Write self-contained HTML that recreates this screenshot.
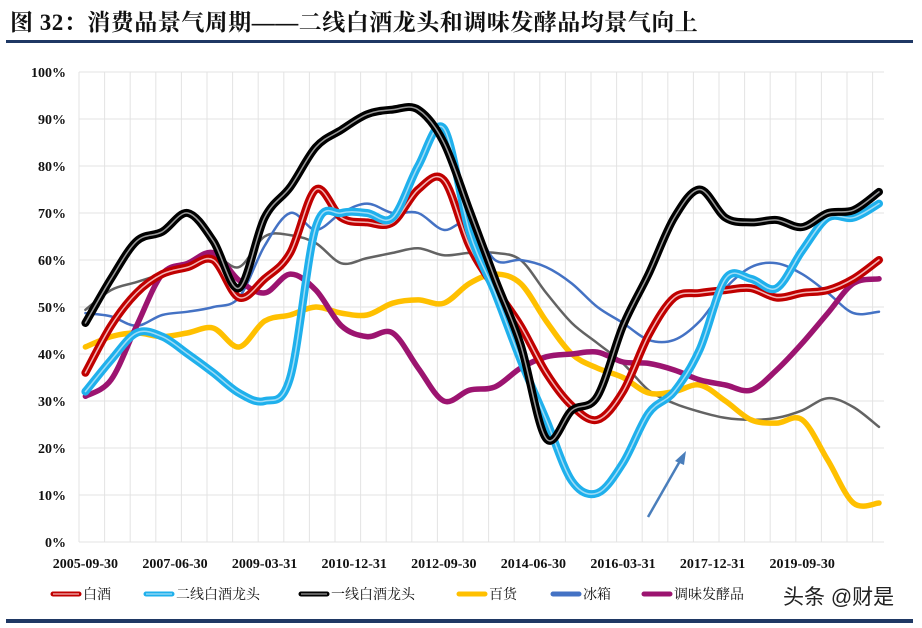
<!DOCTYPE html>
<html><head><meta charset="utf-8">
<style>
html,body{margin:0;padding:0;background:#fff;}
body{width:922px;height:628px;overflow:hidden;position:relative;font-family:"Liberation Serif","Noto Serif CJK SC",serif;}
#title{position:absolute;left:10px;top:4px;font-size:23px;font-weight:bold;color:#111;font-family:"Liberation Serif","Noto Serif CJK SC","Noto Sans CJK SC",serif;white-space:nowrap;letter-spacing:0.5px;}
#rule{position:absolute;left:6px;top:40px;width:907px;height:3px;background:#1f3864;}
#bottom-rule{position:absolute;left:6px;top:619px;width:907px;height:4px;background:#1f3864;}
svg{position:absolute;left:0;top:0;}
</style></head>
<body>
<div id="title">图 32：消费品景气周期——二线白酒龙头和调味发酵品均景气向上</div>
<div id="rule"></div>
<svg id="chart" width="922" height="628"></svg>
<div id="bottom-rule"></div>
<script>
const xTickLabels = ["2005-09-30","2007-06-30","2009-03-31","2010-12-31","2012-09-30","2014-06-30","2016-03-31","2017-12-31","2019-09-30"];
const yTicks = [0,10,20,30,40,50,60,70,80,90,100];
const baijiu = [36,46,53,57,58.5,60,52,56,61.5,75,69,68,68,75,77,63,54,46,36,29,26,32,44,52,53,53.6,54,52,53,53.6,56,60];
const erxian = [32,38.7,44.5,43.7,40,36,31.7,30,35,67,70,70,69,80,88,66,53,38.7,26,13,10.4,16.8,27.4,32,41,56,56,54,62,69,69,72];
const yixian = [46.6,56,64,66,70,64,54,69,75.5,84,87.7,91,92,92,85,70.6,56,42,22,28,31,46,57,69,75,69,68,68.5,67,70,70.6,74.5];
const baihuo = [41.5,43.7,44.5,43.7,44.5,45.5,41.5,47,48.3,50,48.7,48.3,50.8,51.5,50.8,55,57,55,47,40,37,35,31.7,32,33.4,30,26,25.3,26,17.4,8.3,8.3];
const bingxiang = [48.7,48,46,48.3,49,50,52,63,70,66.4,70,72,70,70,66.4,68,60,60,58.5,55,50,46.6,43,43,47,54,58.5,59.3,57,53,48.7,49];
const tiaowei = [31,34.5,46,57,59.3,61.5,55.7,53,57,53.6,46,43.7,44.5,37,30,32.3,33,37,39.4,40,40.4,38.3,38,36.6,34.5,33.4,32.3,36.6,42.3,48.7,55,56];
const grayLine = [49.4,53.6,55.3,57,58.3,61,58.5,65,65.3,63.6,59.3,60.4,61.5,62.5,61,61.5,61.5,60,53,46.6,42.3,38,32.3,29.5,27.7,26.4,26,26.4,28,30.6,28.7,24.5];

const NS="http://www.w3.org/2000/svg";
const svg=document.getElementById('chart');
const L=79,R=884,T=72,B=542;
const catW=12.8;
function xIdx(i){return L+catW/2+i*2*catW;}
function xLab(j){return L+catW/2+j*7*catW;}
function yV(v){return B-(v/100)*(B-T);}
function mk(tag,attrs){const e=document.createElementNS(NS,tag);for(const k in attrs)e.setAttribute(k,attrs[k]);svg.appendChild(e);return e;}

for(let x=L;x<=R+0.5;x+=2*catW){
  const g=mk('line',{x1:x,x2:x,y1:T,y2:B,stroke:'#e3e3e3','stroke-width':1});
  
  
}
yTicks.forEach(v=>{
  const g=mk('line',{x1:L,x2:R,y1:yV(v),y2:yV(v),stroke:'#e3e3e3','stroke-width':1});
  
  
  const t=mk('text',{x:66,y:yV(v)+5,'text-anchor':'end','font-size':14,'font-weight':'bold',fill:'#111','font-family':'Liberation Serif, serif'});
  t.textContent=v+'%';
  
  
});
xTickLabels.forEach((s,j)=>{
  const t=mk('text',{x:xLab(j),y:568,'text-anchor':'middle','font-size':14,'font-weight':'bold',fill:'#111','font-family':'Liberation Serif, serif'});
  t.textContent=s;
  
  
});

function pathD(arr){
  const p=arr.map((v,i)=>[xIdx(i),yV(v)]);
  let d='M'+p[0][0]+','+p[0][1];
  for(let i=0;i<p.length-1;i++){
    const p0=p[i-1]||p[i],p1=p[i],p2=p[i+1],p3=p[i+2]||p2;
    const c1=[p1[0]+(p2[0]-p0[0])/6,p1[1]+(p2[1]-p0[1])/6];
    const c2=[p2[0]-(p3[0]-p1[0])/6,p2[1]-(p3[1]-p1[1])/6];
    d+=' C'+c1[0].toFixed(1)+','+c1[1].toFixed(1)+' '+c2[0].toFixed(1)+','+c2[1].toFixed(1)+' '+p2[0].toFixed(1)+','+p2[1].toFixed(1);
  }
  return d;
}
function series(arr,name,outer,w,inner,iw){
  const p=mk('path',{d:pathD(arr),fill:'none',stroke:outer,'stroke-width':w,'stroke-linejoin':'round','stroke-linecap':'round'});
  
  
  if(inner){
    const q=mk('path',{d:pathD(arr),fill:'none',stroke:inner,'stroke-width':iw,'stroke-linejoin':'round','stroke-linecap':'round'});
    
    
  }
}
series(grayLine,'gray-line','#636363',2.5);
series(bingxiang,'bingxiang-line','#4472c4',2.5);
series(baihuo,'baihuo-line','#ffc000',5.5);
series(tiaowei,'tiaowei-line','#9c1470',5.5);
series(baijiu,'baijiu-line','#c00000',8,'#f3b6b6',1.5);
series(erxian,'erxian-line','#1fb0ec',8,'#9fdcf6',1.5);
series(yixian,'yixian-line','#000000',8,'#9a9a9a',1.5);

const ar=mk('line',{x1:648,y1:517,x2:680,y2:461,stroke:'#4a7ebb','stroke-width':2.5});


const ah=mk('polygon',{points:'686,451 675,461 684,465',fill:'#4a7ebb'});



const legNames=['白酒','二线白酒龙头','一线白酒龙头','百货','冰箱','调味发酵品'];
const legX=[50,143,298,456,550,641];
const legC=[['#c00000','#f3b6b6'],['#1fb0ec','#9fdcf6'],['#000','#9a9a9a'],['#ffc000',null],['#4472c4',null],['#9c1470',null]];
legNames.forEach((n,i)=>{
  const l=mk('line',{x1:legX[i]+3,x2:legX[i]+29,y1:594,y2:594,stroke:legC[i][0],'stroke-width':5,'stroke-linecap':'round'});
  
  
  if(legC[i][1]){const m=mk('line',{x1:legX[i]+3,x2:legX[i]+29,y1:594,y2:594,stroke:legC[i][1],'stroke-width':1.2});
    
    }
  const t=mk('text',{x:legX[i]+33,y:599,'font-size':14,fill:'#111','font-family':'Liberation Serif, Noto Serif CJK SC, serif'});
  t.textContent=n;
  
  
});
const wm=mk('text',{x:783,y:604,'font-size':21,fill:'#222','font-family':'Liberation Sans, Noto Sans CJK SC, sans-serif'});
wm.textContent='头条 @财是';


</script>
</body></html>
